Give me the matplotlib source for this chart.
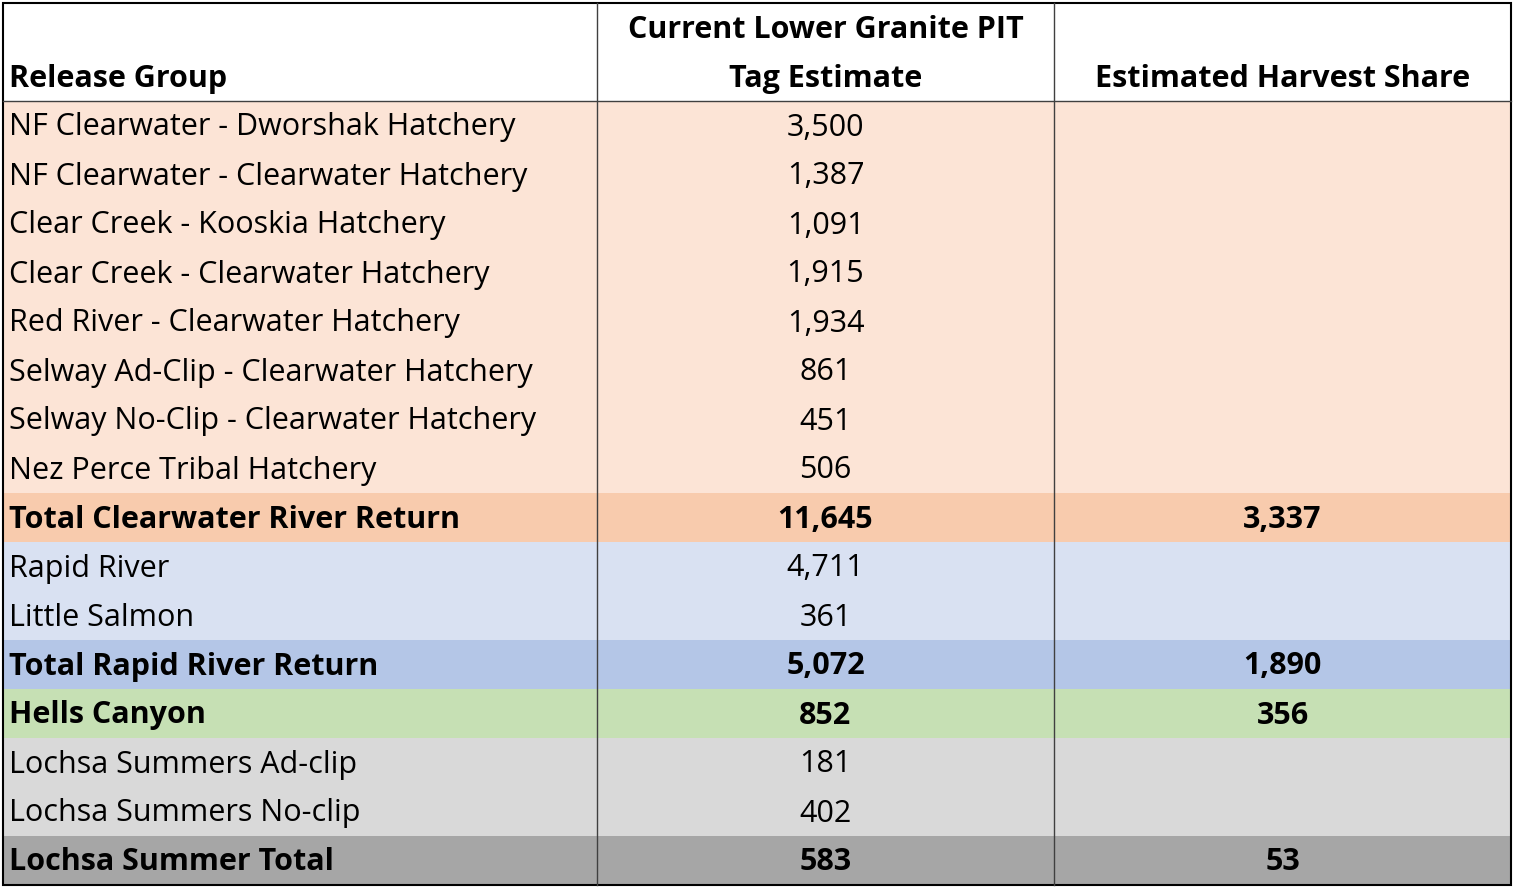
import matplotlib
matplotlib.use("Agg")
import matplotlib.pyplot as plt
from matplotlib.patches import Rectangle

headers = ["Release Group", "Current Lower Granite PIT", "Tag Estimate", "Estimated Harvest Share"]
groups = ["NF Clearwater - Dworshak Hatchery", "NF Clearwater - Clearwater Hatchery",
          "Clear Creek - Kooskia Hatchery", "Clear Creek - Clearwater Hatchery",
          "Red River - Clearwater Hatchery", "Selway Ad-Clip - Clearwater Hatchery",
          "Selway No-Clip - Clearwater Hatchery", "Nez Perce Tribal Hatchery",
          "Total Clearwater River Return", "Rapid River", "Little Salmon",
          "Total Rapid River Return", "Hells Canyon", "Lochsa Summers Ad-clip",
          "Lochsa Summers No-clip", "Lochsa Summer Total"]
pit = ["3,500", "1,387", "1,091", "1,915", "1,934", "861", "451", "506", "11,645",
       "4,711", "361", "5,072", "852", "181", "402", "583"]
harvest = ["", "", "", "", "", "", "", "", "3,337", "", "", "1,890", "356", "", "", "53"]
bold = [False]*8 + [True, False, False, True, True, False, False, True]
colors = ["#FCE4D6"]*8 + ["#F8CBAD", "#D9E1F2", "#D9E1F2", "#B4C6E7", "#C6E0B4",
                          "#D9D9D9", "#D9D9D9", "#A6A6A6"]

W, H = 1514, 890
fig = plt.figure(figsize=(W/100, H/100), dpi=100)
ax = fig.add_axes([0, 0, 1, 1])
ax.set_xlim(0, W); ax.set_ylim(H, 0); ax.axis("off")
font = "Open Sans"
fs = 22
cols = [3, 597, 1054, 1511]
top, hdr_bot, row_h = 3, 101, 49

def t(x, y, s, w, ha):
    ax.text(x, y, s, fontsize=fs, family=font, weight=w, va="center", ha=ha)

for i in range(len(groups)):
    y0 = hdr_bot + i*row_h
    ax.add_patch(Rectangle((cols[0], y0), cols[3]-cols[0], row_h, color=colors[i], lw=0))
    w = "bold" if bold[i] else "normal"
    yc = y0 + row_h/2 + 2
    t(9, yc, groups[i], w, "left")
    t((cols[1]+cols[2])/2, yc, pit[i], w, "center")
    t((cols[2]+cols[3])/2, yc, harvest[i], w, "center")

t(9, 79, headers[0], "bold", "left")
t((cols[1]+cols[2])/2, 30, headers[1], "bold", "center")
t((cols[1]+cols[2])/2, 79, headers[2], "bold", "center")
t((cols[2]+cols[3])/2, 79, headers[3], "bold", "center")

bottom = hdr_bot + len(groups)*row_h
for x in cols[1:3]:
    ax.plot([x, x], [top, bottom], color="#404040", lw=1)
ax.plot([cols[0], cols[3]], [hdr_bot, hdr_bot], color="#404040", lw=1)
ax.add_patch(Rectangle((cols[0], top), cols[3]-cols[0], bottom-top, fill=False, ec="black", lw=1.5))
fig.savefig("out.png", dpi=100)
